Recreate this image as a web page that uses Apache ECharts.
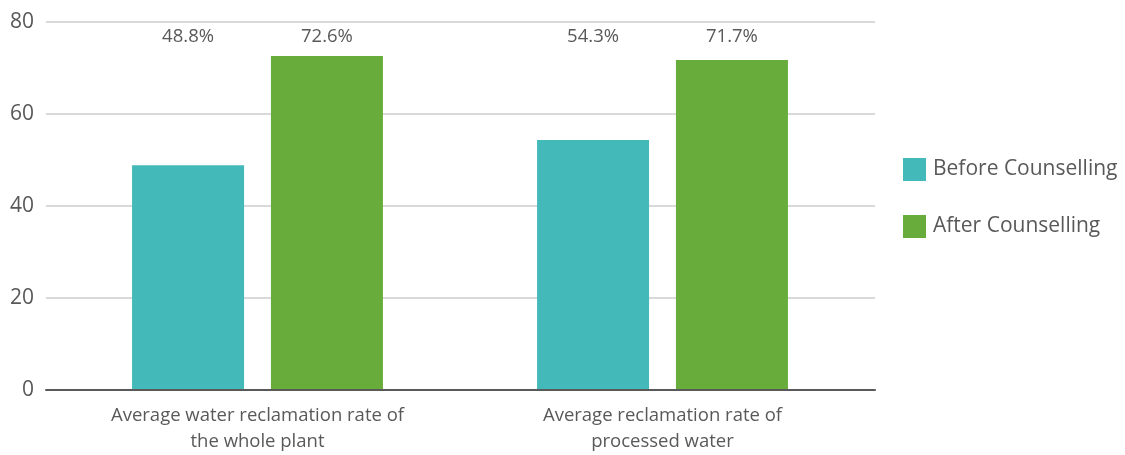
<!DOCTYPE html>
<html><head><meta charset="utf-8">
<script src="https://cdn.jsdelivr.net/npm/echarts@6/dist/echarts.min.js"></script>
<style>html,body{margin:0;padding:0;background:#fff}#c{width:1125px;height:455px}</style>
</head><body><div id="c"></div>
<script>
const categories = ['Average water reclamation rate of\nthe whole plant', 'Average reclamation rate of\nprocessed water'];
const seriesNames = ['Before Counselling', 'After Counselling'];
const beforeValues = [48.8, 54.3];
const afterValues = [72.6, 71.7];
const yTicks = [0, 20, 40, 60, 80];

const FONT = '"Open Sans", "Noto Sans", sans-serif';
const TXT = '#595959';
const chart = echarts.init(document.getElementById('c'), null, {renderer: 'canvas'});
const lbl = {
  show: true, position: 'top',
  formatter: p => p.value.toFixed(1) + '%',
  fontSize: 18.5, color: TXT, fontFamily: FONT
};
const fixedTop = (p) => ({ x: p.rect.x + p.rect.width / 2, y: 37, align: 'center', verticalAlign: 'middle' });
chart.setOption({
  animation: false,
  textStyle: { fontFamily: FONT },
  legend: {
    orient: 'vertical', left: 903, top: 158, padding: 0,
    itemWidth: 23, itemHeight: 23, itemGap: 34, icon: 'rect',
    textStyle: { fontSize: 21, color: TXT, fontFamily: FONT, padding: [3, 0, 0, 2] },
    data: seriesNames
  },
  grid: [
    { left: 55, right: 260, top: 22, bottom: 65 },
    { left: 46, right: 250, top: 22, bottom: 65 }
  ],
  xAxis: [
    { type: 'category', gridIndex: 0, data: categories,
      axisLine: { show: false }, axisTick: { show: false },
      axisLabel: { fontSize: 18.5, lineHeight: 26, color: TXT, margin: 14, fontFamily: FONT, interval: 0 } },
    { type: 'value', gridIndex: 1, min: 0, max: 1,
      axisLine: { show: true, onZero: false, lineStyle: { color: '#595959', width: 2 } },
      axisTick: { show: false }, axisLabel: { show: false }, splitLine: { show: false }, z: 10 }
  ],
  yAxis: [
    { type: 'value', gridIndex: 0, min: yTicks[0], max: yTicks[yTicks.length - 1], interval: 20, show: false },
    { type: 'value', gridIndex: 1, min: yTicks[0], max: yTicks[yTicks.length - 1], interval: 20,
      axisLine: { show: false }, axisTick: { show: false },
      axisLabel: { fontSize: 21, color: TXT, margin: 12, fontFamily: FONT },
      splitLine: { lineStyle: { color: '#d9d9d9', width: 2 } } }
  ],
  series: [
    { name: seriesNames[0], type: 'bar', xAxisIndex: 0, yAxisIndex: 0, data: beforeValues,
      barWidth: 112, barGap: '24%', itemStyle: { color: '#43B9BA' }, label: lbl, labelLayout: fixedTop },
    { name: seriesNames[1], type: 'bar', xAxisIndex: 0, yAxisIndex: 0, data: afterValues,
      barWidth: 112, barGap: '24%', itemStyle: { color: '#68AD3C' }, label: lbl, labelLayout: fixedTop }
  ]
});
</script></body></html>
